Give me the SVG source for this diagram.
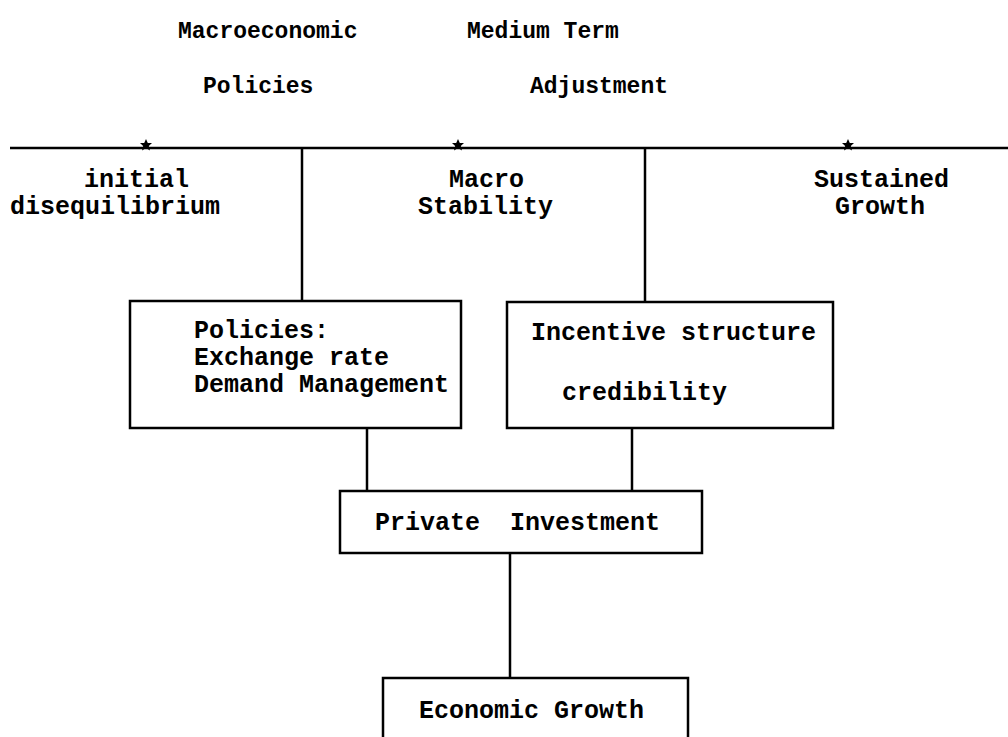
<svg xmlns="http://www.w3.org/2000/svg" width="1008" height="737" viewBox="0 0 1008 737">
<defs>
<style>
.t{font-family:"Liberation Mono","DejaVu Sans Mono",monospace;font-weight:bold;fill:#000;font-size:25px}
.h{font-size:23px}
.b{fill:#fff;stroke:#000;stroke-width:2.5}
.c{stroke:#000;stroke-width:2.5;fill:none}
</style>
<polygon id="star" points="0,-6 1.8,-2 6,-2 2.8,1 4,5.5 0,3 -4,5.5 -2.8,1 -6,-2 -1.8,-2" fill="#000"/>
</defs>
<rect width="1008" height="737" fill="#fff"/>
<g id="header">
<text class="t h" x="178" y="38">Macroeconomic</text>
<text class="t h" x="203" y="93">Policies</text>
<text class="t h" x="467" y="38">Medium Term</text>
<text class="t h" x="530" y="93">Adjustment</text>
</g>
<g id="connectors">
<line class="c" x1="10" y1="148" x2="1008" y2="148"/>
<use href="#star" x="146" y="145"/>
<use href="#star" x="458" y="145"/>
<use href="#star" x="848" y="145"/>
<line class="c" x1="302" y1="148" x2="302" y2="301"/>
<line class="c" x1="645" y1="148" x2="645" y2="302"/>
<line class="c" x1="367" y1="428" x2="367" y2="491"/>
<line class="c" x1="632" y1="428" x2="632" y2="491"/>
<line class="c" x1="510" y1="553" x2="510" y2="678"/>
</g>
<g id="stage-initial">
<text class="t" x="84" y="187">initial</text>
<text class="t" x="10" y="214">disequilibrium</text>
</g>
<g id="stage-macro">
<text class="t" x="449" y="187">Macro</text>
<text class="t" x="418" y="214">Stability</text>
</g>
<g id="stage-sustained">
<text class="t" x="814" y="187">Sustained</text>
<text class="t" x="835" y="214">Growth</text>
</g>
<g id="policies">
<rect class="b" x="130" y="301" width="331" height="127"/>
<text class="t" x="194" y="338">Policies:</text>
<text class="t" x="194" y="365">Exchange rate</text>
<text class="t" x="194" y="392">Demand Management</text>
</g>
<g id="incentive">
<rect class="b" x="507" y="302" width="326" height="126"/>
<text class="t" x="531" y="340">Incentive structure</text>
<text class="t" x="562" y="400">credibility</text>
</g>
<g id="private-investment">
<rect class="b" x="340" y="491" width="362" height="62"/>
<text class="t" x="375" y="530" xml:space="preserve">Private  Investment</text>
</g>
<g id="economic-growth">
<rect class="b" x="383" y="678" width="305" height="80"/>
<text class="t" x="419" y="718">Economic Growth</text>
</g>
</svg>
